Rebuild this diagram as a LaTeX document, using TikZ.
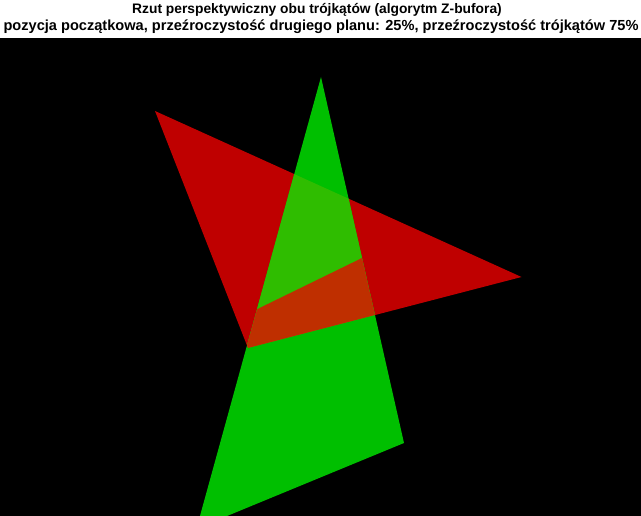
\documentclass[tikz,border=0pt]{standalone}
\usepackage{fontspec}
\setmainfont{Liberation Sans}
\usepackage{xcolor}
\usepackage{tikz}
\usetikzlibrary{calc}
\definecolor{zbred}{RGB}{191,0,0}
\definecolor{zbgreen}{RGB}{0,191,0}
\definecolor{zbgreenfront}{RGB}{47,189,0}
\definecolor{zbredfront}{RGB}{191,47,0}
\tikzset{
  zbtitle/.style={font=\fontsize{13.8}{16}\selectfont\bfseries,inner sep=0pt,anchor=base},
  zbsubtitle/.style={zbtitle,font=\fontsize{14.6}{16}\selectfont\bfseries},
  zbaxes/.style={fill=black},
  zbtri/.style={draw=none}
}

\begin{document}
\begin{tikzpicture}[x=1pt,y=-1pt]
  \useasboundingbox (0,0) rectangle (641,516);
  % title above the axes
  \node[zbtitle] (title1) at (317,14) {Rzut perspektywiczny obu trójkątów (algorytm Z-bufora)};
  \node[zbsubtitle] (title2) at (321,30.5) {pozycja początkowa, przeźroczystość drugiego planu: 25\%, przeźroczystość trójkątów 75\%};
  % axes (black background)
  \fill[zbaxes] (0,38) rectangle (641,516);
  % vertices
  \coordinate (r1) at (155,111);
  \coordinate (r2) at (521.5,277);
  \coordinate (r3) at (248,348);
  \coordinate (g1) at (321,77);
  \coordinate (g2) at (404,443);
  \coordinate (g3) at (196.5,528.6);
  % intersection line of both triangles (Z-buffer)
  \coordinate (zp) at (257.5,309);
  \coordinate (zq) at (362,258);
  \begin{scope}
    \clip (0,38) rectangle (641,516);
    \fill[zbtri,zbred] (r1) -- (r2) -- (r3) -- cycle;
    \fill[zbtri,zbgreen] (g1) -- (g2) -- (g3) -- cycle;
    % overlap: green in front above the line, red in front below
    \clip (r1) -- (r2) -- (r3) -- cycle;
    \clip (g1) -- (g2) -- (g3) -- cycle;
    \fill[zbgreenfront] (0,38) rectangle (641,516);
    \fill[zbredfront] ($(zp)!-3!(zq)$) -- ($(zq)!-3!(zp)$) -- (641,516) -- (0,516) -- cycle;
  \end{scope}
\end{tikzpicture}
\end{document}
